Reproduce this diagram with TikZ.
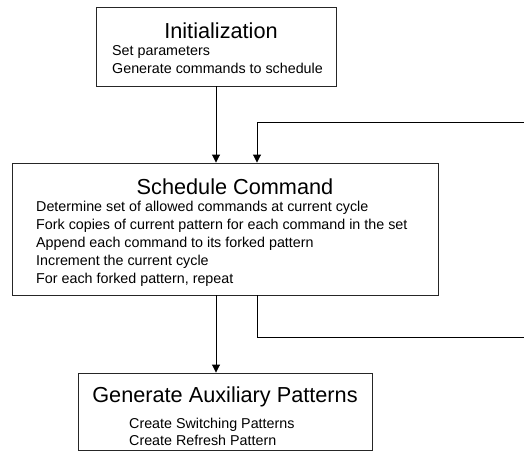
\documentclass[tikz,border=0pt]{standalone}
\usepackage{fontspec}
\setmainfont{Liberation Sans}
\usetikzlibrary{arrows.meta}
% lines of a box body, the first baseline being the node's base
\newcommand{\bodylines}[1]{\parbox[t]{420pt}{\fontsize{14.3}{17.9}\selectfont #1}}
\begin{document}
\begin{tikzpicture}[x=1pt,y=-1pt,
  box/.style={draw=black!85, line width=0.9pt, rectangle, inner sep=0pt},
  heading/.style={font=\fontsize{21.7}{26}\selectfont, anchor=base, inner sep=0pt},
  body/.style={anchor=base west, inner sep=0pt},
  flow/.style={line width=0.9pt, -{Triangle[length=8pt,width=8pt]}}]
\clip (0,0) rectangle (524,452);

% boxes
\node[box, minimum width=240pt, minimum height=79pt] (init) at (216,46.5) {};
\node[box, minimum width=426pt, minimum height=132pt] (sched) at (225,229) {};
\node[box, minimum width=294pt, minimum height=77pt] (aux) at (225,411.5) {};

% box texts
\node[heading] (initT) at (221,39) {Initialization};
\node[body] (initB) at (112,55.5) {\bodylines{Set parameters\\Generate commands to schedule}};

\node[heading] (schedT) at (235,194) {Schedule Command};
\node[body] (schedB) at (36,211.7) {\bodylines{Determine set of allowed commands at current cycle\\
Fork copies of current pattern for each command in the set\\
Append each command to its forked pattern\\
Increment the current cycle\\
For each forked pattern, repeat}};

\node[heading] (auxT) at (225,402) {Generate Auxiliary Patterns};
\node[body] (auxB) at (129,428) {\bodylines{Create Switching Patterns\\Create Refresh Pattern}};

% connectors
\coordinate (mainx) at (216,0);
\coordinate (loopx) at (257,0);
\coordinate (retB) at (540,337);
\coordinate (retT) at (540,122);

\draw[flow] (init.south -| mainx) -- (sched.north -| mainx);
\draw[flow] (sched.south -| mainx) -- (aux.north -| mainx);
\draw[flow] (sched.south -| loopx) |- (retB) -- (retT) -| (sched.north -| loopx);
\end{tikzpicture}
\end{document}
